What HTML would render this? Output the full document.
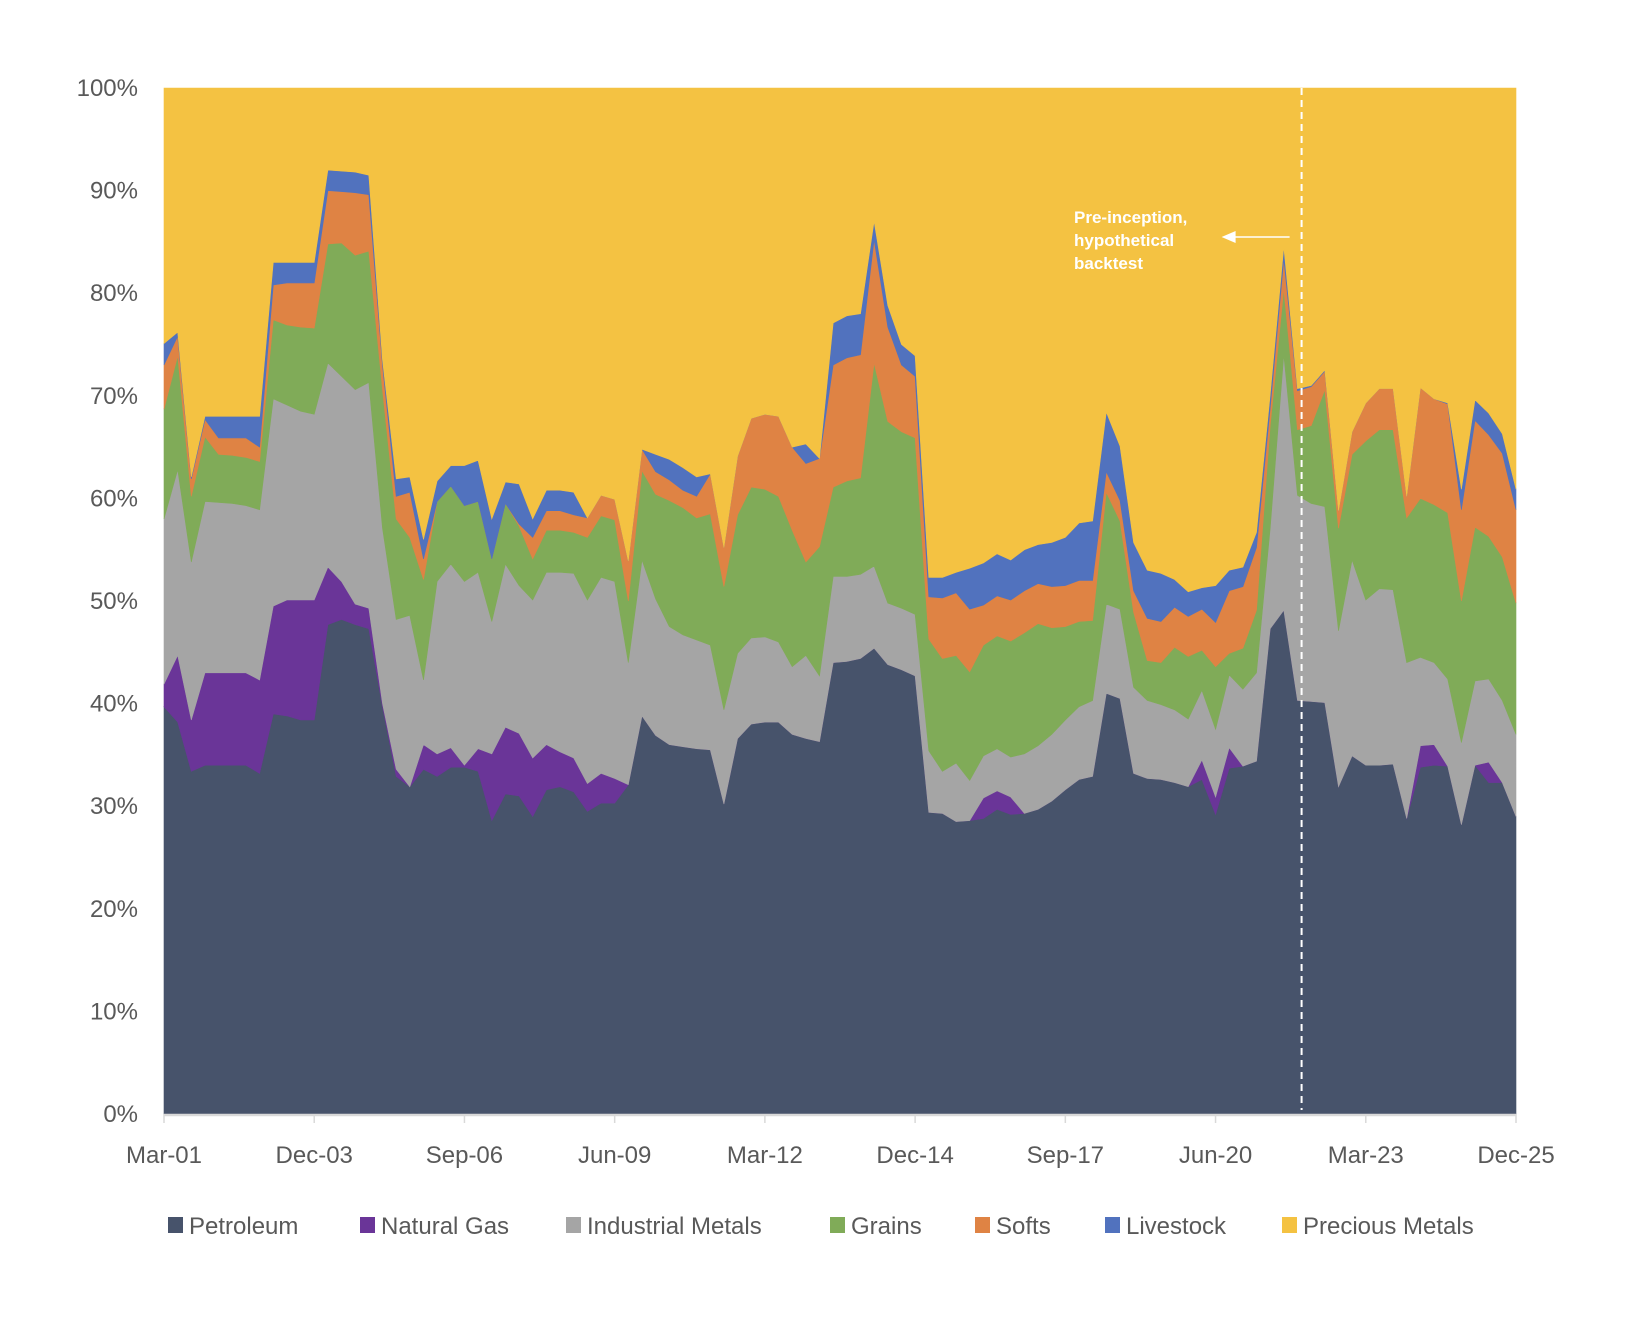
<!DOCTYPE html>
<html><head><meta charset="utf-8"><style>
html,body{margin:0;padding:0;background:#fff;}
svg{display:block;font-family:"Liberation Sans",sans-serif;}
</style></head><body>
<svg id="chart" width="1626" height="1340" viewBox="0 0 1626 1340" xmlns="http://www.w3.org/2000/svg">
<g id="areas"></g>
<g id="axes"></g>
<g id="legend"></g>
<g id="annot"></g>
</svg>
<script>
const xTickLabels = ["Mar-01","Dec-03","Sep-06","Jun-09","Mar-12","Dec-14","Sep-17","Jun-20","Mar-23","Dec-25"];
const yTickLabels = ["0%","10%","20%","30%","40%","50%","60%","70%","80%","90%","100%"];
const seriesNames = ["Petroleum","Natural Gas","Industrial Metals","Grains","Softs","Livestock","Precious Metals"];
const petroleum = [39.7,38.2,33.4,34.0,34.0,34.0,34.0,33.2,39.0,38.8,38.4,38.4,47.7,48.2,47.7,47.3,39.7,32.9,31.9,33.6,32.9,33.8,33.8,33.4,28.6,31.2,31.0,29.0,31.6,31.9,31.4,
29.5,30.3,30.3,32.1,38.8,36.9,36.0,35.8,35.6,35.5,30.2,36.6,38.0,38.2,38.2,37.0,36.6,36.3,44.0,44.1,44.4,45.4,43.8,43.3,42.7,29.4,29.3,28.5,28.6,28.8,
29.7,29.2,29.3,29.7,30.5,31.6,32.6,32.9,41.0,40.5,33.2,32.7,32.6,32.3,31.9,32.6,29.2,33.7,33.9,34.4,47.3,49.1,40.3,40.2,40.1,31.9,34.9,34.0,34.0,34.1,
28.8,33.8,34.0,33.9,28.2,34.0,32.3,32.3,29.0];
const naturalGas = [2.2,6.5,5.0,9.0,9.0,9.0,9.0,9.1,10.5,11.3,11.7,11.7,5.6,3.7,2.0,2.0,0.3,0.7,0,2.4,2.2,1.9,0.2,2.2,6.5,6.5,6.1,5.7,4.4,3.4,3.3,
2.7,2.9,2.4,0,0,0,0,0,0,0,0,0,0,0,0,0,0,0,0,0,0,0,0,0,0,0,0,0,0,2.0,
1.8,1.7,0,0,0,0,0,0,0,0,0,0,0,0,0,1.9,1.7,2.0,0,0,0,0,0,0,0,0,0,0,0,0,
0,2.1,2.0,0,0,0,2.0,0,0];
const industrialMetals = [16.1,18.1,15.4,16.7,16.6,16.5,16.3,16.6,20.2,19.0,18.4,18.1,19.9,20.0,20.9,22.0,17.1,14.6,16.7,6.3,16.8,17.9,17.9,17.2,12.9,15.9,14.4,15.4,16.8,17.5,18.0,
17.9,19.1,19.2,11.9,15.2,13.3,11.5,10.9,10.6,10.2,9.2,8.3,8.4,8.3,7.8,6.6,8.1,6.4,8.4,8.3,8.2,8.0,6.0,6.0,6.0,6.0,4.1,5.7,3.9,4.1,
4.1,3.9,5.8,6.2,6.5,6.8,7.1,7.4,8.7,8.7,8.4,7.6,7.3,7.1,6.6,6.8,6.6,7.1,7.5,8.6,9.8,24.9,20.0,19.3,19.1,15.2,19.1,16.1,17.2,17.0,
15.2,8.6,8.0,8.5,8.0,8.2,8.1,8.0,8.0];
const grains = [10.7,11.1,6.4,6.3,4.7,4.7,4.7,4.7,7.7,7.8,8.2,8.4,11.6,13.0,13.1,12.8,13.5,9.8,7.6,9.8,7.8,7.6,7.4,6.9,6.1,5.9,5.8,4.0,4.1,4.1,4.0,
6.1,6.0,6.0,6.0,8.7,10.2,12.3,12.4,11.9,12.8,12.0,13.5,14.7,14.4,14.2,13.3,9.1,12.6,8.7,9.3,9.4,19.8,17.7,17.2,17.2,10.9,11.0,10.5,10.6,10.8,
11.0,11.3,11.8,11.9,10.4,9.1,8.3,7.8,10.9,8.6,7.3,3.9,4.1,6.1,6.1,3.9,6.1,2.1,4.0,6.1,10.0,6.4,6.4,7.6,11.4,10.0,10.3,15.5,15.5,15.6,
14.1,15.5,15.4,16.2,13.8,15.0,13.9,14.0,12.8];
const softs = [4.3,1.9,1.7,1.7,1.6,1.7,1.9,1.4,3.4,4.1,4.3,4.4,5.2,5.0,6.1,5.5,2.4,2.2,4.4,2.0,0,0,0,0,0,0,0.2,2.1,1.9,1.9,1.7,
1.9,2.0,2.0,3.9,2.1,2.2,2.0,1.7,2.1,3.9,3.8,5.7,6.7,7.3,7.8,8.1,9.6,8.6,11.9,12.0,12.0,12.0,9.2,6.5,6.0,4.1,5.9,6.1,6.1,3.9,
3.9,4.0,4.1,3.9,4.0,4.0,4.0,3.9,2.0,2.0,2.1,4.1,4.0,3.9,3.9,4.0,4.3,6.1,6.0,6.1,1.7,2.9,3.8,3.8,1.8,1.7,2.2,3.7,4.0,4.0,
2.1,10.8,10.3,10.6,8.9,10.4,9.9,10.1,9.1];
const livestock = [2.1,0.4,0.2,0.3,2.1,2.1,2.1,3.0,2.2,2.0,2.0,2.0,2.0,2.0,2.0,1.9,0.5,1.7,1.5,1.9,2.0,2.0,3.9,4.0,3.9,2.1,3.9,1.8,2.0,2.0,2.2,
0,0,0,0,0,1.7,2.0,2.2,1.9,0,0,0,0,0,0,0,1.9,0,4.1,4.1,4.0,1.8,2.1,2.0,2.0,1.9,2.0,2.0,4.0,4.1,
4.1,3.9,4.0,3.8,4.3,4.7,5.6,5.8,5.8,5.3,4.7,4.7,4.7,2.7,2.4,2.1,3.6,2.0,1.9,1.5,1.3,1.2,0.2,0.1,0.1,0,0,0,0,0,
0,0,0,0.1,2.0,2.0,2.1,1.9,2.0];
const inceptionIndex = 83.3;

const NS = "http://www.w3.org/2000/svg";
const L = 164, R = 1516, T = 88, B = 1114;
const N = petroleum.length;
function xs(i){ return L + i*(R-L)/(N-1); }
function ys(v){ return B - v*(B-T)/100; }
function mk(tag, attrs, parent){
  const e = document.createElementNS(NS, tag);
  for (const k in attrs) e.setAttribute(k, attrs[k]);
  parent.appendChild(e); return e;
}
const colors = ["#47536b","#6a3598","#a5a5a5","#80ab58","#df8344","#5172be","#f4c242"];
const keys = ["petroleum","natural-gas","industrial-metals","grains","softs","livestock","precious-metals"];
const stacks = [petroleum, naturalGas, industrialMetals, grains, softs, livestock];
const areas = document.getElementById("areas");
let lower = new Array(N).fill(0);
for (let s = 0; s < 7; s++) {
  const upper = [];
  for (let i = 0; i < N; i++) upper.push(s < 6 ? lower[i] + stacks[s][i] : 100);
  let pts = [];
  for (let i = 0; i < N; i++) pts.push(xs(i).toFixed(1)+","+ys(upper[i]).toFixed(1));
  for (let i = N-1; i >= 0; i--) pts.push(xs(i).toFixed(1)+","+ys(lower[i]).toFixed(1));
  const p = mk("polygon", {points: pts.join(" "), fill: colors[s], stroke: colors[s], "stroke-width": "0.6"}, areas);
  
  
  lower = upper;
}
const axes = document.getElementById("axes");
const axl = mk("line", {x1:L, x2:R, y1:B+1, y2:B+1, stroke:"#d9d9d9", "stroke-width":"2.5"}, axes);


for (let k = 0; k < yTickLabels.length; k++) {
  const t = mk("text", {x:138, y:ys(k*10)+8, "text-anchor":"end", "font-size":"24", fill:"#595959"}, axes);
  t.textContent = yTickLabels[k];
  
  
}
for (let k = 0; k < xTickLabels.length; k++) {
  const x = xs(k*11);
  const tk = mk("line", {x1:x, x2:x, y1:B, y2:B+9, stroke:"#d9d9d9", "stroke-width":"1.5"}, axes);
  
  
  const t = mk("text", {x:x, y:1163, "text-anchor":"middle", "font-size":"24", fill:"#595959"}, axes);
  t.textContent = xTickLabels[k];
  
  
}
const legend = document.getElementById("legend");
const legX = [168, 360, 566, 830, 975, 1105, 1282];
for (let s = 0; s < 7; s++) {
  const r = mk("rect", {x:legX[s], y:1217, width:15, height:16, fill:colors[s]}, legend);
  
  
  const t = mk("text", {x:legX[s]+21, y:1234, "font-size":"24", fill:"#595959"}, legend);
  t.textContent = seriesNames[s];
  
  
}
const annot = document.getElementById("annot");
const dx = xs(inceptionIndex);
const dl = mk("line", {x1:dx, x2:dx, y1:T, y2:1110, stroke:"#ffffff", "stroke-width":"2", "stroke-dasharray":"7,5"}, annot);


const ar = mk("line", {x1:dx-12, x2:dx-70, y1:237, y2:237, stroke:"#ffffff", "stroke-width":"1.5"}, annot);


const ah = mk("polygon", {points:(dx-80)+",237 "+(dx-66)+",231 "+(dx-66)+",243", fill:"#ffffff"}, annot);


const lines = ["Pre-inception,","hypothetical","backtest"];
for (let k = 0; k < 3; k++) {
  const t = mk("text", {x:1074, y:223+k*23, "font-size":"17", "font-weight":"bold", fill:"#ffffff"}, annot);
  t.textContent = lines[k];
  
  
}
</script>
</body></html>
